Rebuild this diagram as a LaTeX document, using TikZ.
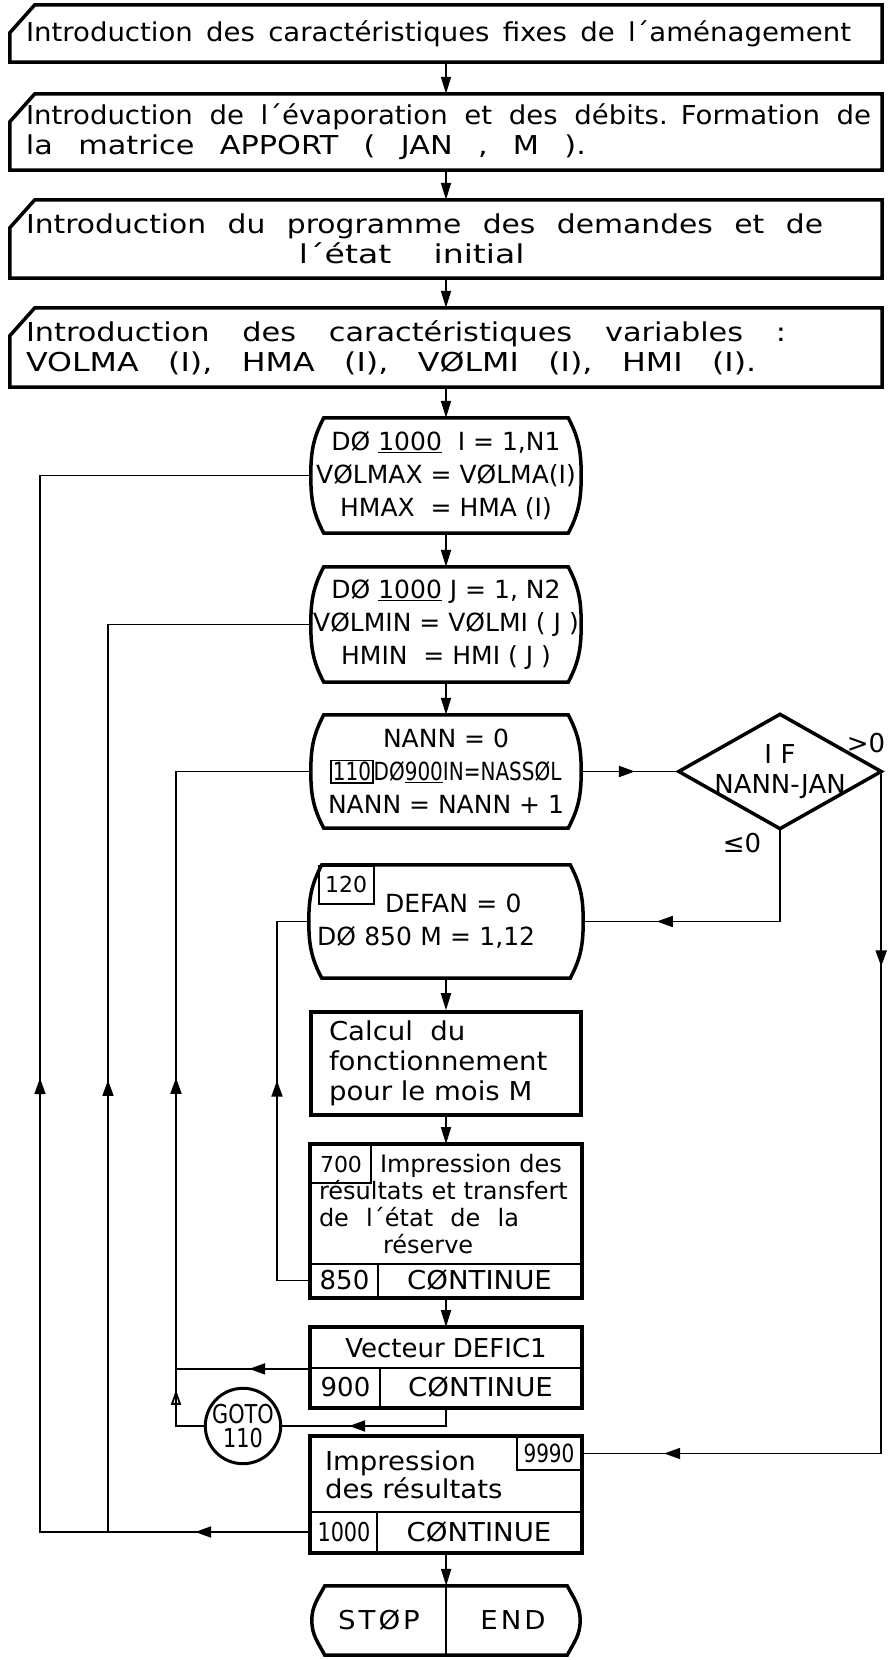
\documentclass[tikz,border=0pt]{standalone}
\usepackage{graphicx}
\usepackage{fontspec}
\setmainfont{DejaVu Sans}
\newfontfamily\widefont[FakeStretch=1.06]{DejaVu Sans}
\newfontfamily\narrowfont[FakeStretch=0.8]{DejaVu Sans}
\usetikzlibrary{arrows.meta, calc, decorations.markings}

\setlength{\fboxrule}{1.5pt}
\setlength{\fboxsep}{1pt}
\newcommand{\spread}[2]{\leavevmode\hbox to #1{\spaceskip=0.3em plus 1fil\relax #2}}
\newcommand{\wideline}[3]{\scalebox{#1}[1]{\spread{#2}{#3}}}
% input box with cut corner
\newcommand{\inputframe}[1]{%
  \draw[frame] ($(#1.north west)+(0,-28)$) -- ($(#1.north west)+(25,0)$)
    -- (#1.north east) -- (#1.south east) -- (#1.south west) -- cycle;}
% loop box with bulging sides
\newcommand{\loopframe}[2]{%
  \draw[frame] ($(#1.north west)+(13,0)$) -- ($(#2.north east)+(-13,0)$)
    to[out=-62,in=90] (#2.east) to[out=-90,in=62] ($(#2.south east)+(-13,0)$)
    -- ($(#1.south west)+(13,0)$) to[out=118,in=-90] (#1.west)
    to[out=90,in=-118] ($(#1.north west)+(13,0)$) -- cycle;}

\begin{document}
\begin{tikzpicture}[
    x=1pt, y=1pt,
    frame/.style={line width=3.5pt},
    line/.style={line width=1.8pt},
    flow/.style={line, -{Triangle[length=17pt,width=10pt]}},
    midarr/.style={postaction={decorate, decoration={markings, mark=at position #1 with {\arrow{Triangle[length=16pt,width=11pt]}}}}},
    openarr/.style={postaction={decorate, decoration={markings, mark=at position #1 with {\arrow{Triangle[open,length=15pt,width=10pt]}}}}},
    inbox/.style={rectangle, minimum width=872pt, text width=840pt, inner xsep=16pt, inner ysep=0pt, align=left, font=\widefont\fontsize{26}{30}\selectfont},
    loopbox/.style={rectangle, minimum width=270pt, minimum height=115pt, inner sep=0pt, align=center, font=\fontsize{25}{33}\selectfont},
    block/.style={rectangle, draw, line width=1.8pt, minimum width=270pt, inner sep=0pt},
    cell/.style={rectangle, draw, line width=1.8pt, inner sep=0pt, font=\fontsize{26}{26}\selectfont},
    tag/.style={rectangle, draw, line width=1.8pt, inner sep=0pt, font=\fontsize{22}{22}\selectfont}
]
\useasboundingbox (0,0) rectangle (889,1660);

% Lanes
\coordinate (lane1) at (40,0);
\coordinate (lane2) at (108,0);
\coordinate (lane3) at (176,0);
\coordinate (lane4) at (277,0);
\coordinate (axis) at (446,0);

% Input boxes
\node (b1) [inbox, minimum height=57pt] at (446,1626.5) {\spread{825pt}{Introduction des caractéristiques fixes de l´aménagement}};
\node (b2) [inbox, minimum height=76pt] at (446,1528) {\spread{845pt}{Introduction de l´évaporation et des débits. Formation de}\\\wideline{1.1}{509pt}{la matrice APPORT ( JAN , M ).}};
\node (b3) [inbox, minimum height=78pt] at (446,1421) {\wideline{1.08}{738pt}{Introduction du programme des demandes et de}\\\hspace*{273pt}\wideline{1.2}{188pt}{l´état initial}};
\node (b4) [inbox, minimum height=79pt] at (446,1312.5) {\wideline{1.1}{691pt}{Introduction des caractéristiques variables :}\\\wideline{1.15}{635pt}{VOLMA (I), HMA (I), VØLMI (I), HMI (I).}};

% Loops
\node (loop1) [loopbox] at (446,1184.5) {DØ \underline{1000}\ \ I = 1,N1\\VØLMAX = VØLMA(I)\\HMAX\ \ = HMA (I)};
\node (loop2) [loopbox] at (446,1035.5) {DØ \underline{1000} J = 1, N2\\VØLMIN = VØLMI ( J )\\HMIN\ \ = HMI ( J )};
\node (loop3) [loopbox, minimum height=113pt] at (446,888.5) {NANN = 0\\{\narrowfont\fbox{110}DØ\underline{900}IN=NASSØL}\\NANN = NANN + 1};
\node (ifn) [rectangle, minimum width=202pt, minimum height=114pt, inner sep=0pt, align=center, font=\fontsize{26}{30}\selectfont] at (780,888.5) {I\,\,F\\NANN-JAN};
\node (gt) [font=\fontsize{26}{26}\selectfont, inner sep=0pt] at (866,917) {>0};
\node (le) [font=\fontsize{26}{26}\selectfont, inner sep=0pt] at (742,817) {≤0};
\node (box120) [loopbox, minimum width=274pt, minimum height=113pt, text width=258pt, inner xsep=8pt, align=left] at (446,738.5) {\hspace*{68pt}DEFAN = 0\\DØ 850 M = 1,12};
\node (l120) [tag, anchor=north west, minimum width=55pt, minimum height=38pt] at ($(box120.north west)+(9,0)$) {120};

% Monthly loop body
\node (calc) [block, line width=3.5pt, minimum height=103pt, text width=234pt, inner xsep=18pt, align=left, font=\widefont\fontsize{26}{30}\selectfont] at (446,596.5) {Calcul \ du\\fonctionnement\\pour le mois M};
\node (t700) [block, minimum height=119pt, text width=254pt, inner xsep=8pt, align=left, font=\fontsize{24}{27}\selectfont] at (446,455.5) {\hspace*{61pt}Impression des\\résultats et transfert\\\spread{200pt}{de l´état de la}\\\hspace*{64pt}réserve};
\node (l700) [tag, anchor=north west, minimum width=60pt, minimum height=38pt] at (t700.north west) {700};
\node (n850) [cell, minimum width=67pt, minimum height=33pt] at (344.5,379.5) {850};
\node (k850) [cell, minimum width=203pt, minimum height=33pt, font=\widefont\fontsize{26}{26}\selectfont] at (479.5,379.5) {CØNTINUE};

\node (tvec) [block, minimum height=40pt, font=\fontsize{26}{26}\selectfont] at (446,312) {Vecteur DEFIC1};
\node (n900) [cell, minimum width=69pt, minimum height=39pt] at (345.5,272.5) {900};
\node (k900) [cell, minimum width=201pt, minimum height=39pt, font=\widefont\fontsize{26}{26}\selectfont] at (480.5,272.5) {CØNTINUE};
\node (goto) [circle, draw, line width=3pt, minimum size=74pt, inner sep=0pt, align=center, font=\narrowfont\fontsize{26}{24}\selectfont] at (243,234) {GOTO\\110};

% Results and end
\node (timp) [block, minimum height=75pt, text width=242pt, inner xsep=14pt, align=left, font=\widefont\fontsize{26}{28}\selectfont] at (446,185.5) {Impression\\des résultats};
\node (l9990) [tag, anchor=north east, minimum width=64pt, minimum height=33pt, font=\narrowfont\fontsize{25}{25}\selectfont] at (timp.north east) {9990};
\node (n1000) [cell, minimum width=66pt, minimum height=40pt, font=\narrowfont\fontsize{26}{26}\selectfont] at (344,128) {1000};
\node (k1000) [cell, minimum width=204pt, minimum height=40pt, font=\widefont\fontsize{26}{26}\selectfont] at (479,128) {CØNTINUE};
\node (stp) [rectangle, minimum width=134pt, minimum height=69pt, inner sep=0pt, font=\widefont\fontsize{26}{26}\selectfont] at (379,39.5) {S\hspace{3pt}T\hspace{3pt}Ø\hspace{3pt}P};
\node (endn) [rectangle, minimum width=134pt, minimum height=69pt, inner sep=0pt, font=\widefont\fontsize{26}{26}\selectfont] at (513,39.5) {E\hspace{3pt}N\hspace{3pt}D};

% Frames
\inputframe{b1}
\inputframe{b2}
\inputframe{b3}
\inputframe{b4}
\loopframe{loop1}{loop1}
\loopframe{loop2}{loop2}
\loopframe{loop3}{loop3}
\loopframe{box120}{box120}
\loopframe{stp}{endn}
\draw[frame] (ifn.north) -- (ifn.east) -- (ifn.south) -- (ifn.west) -- cycle;
\draw[frame] (t700.north west) rectangle (k850.south east);
\draw[frame] (tvec.north west) rectangle (k900.south east);
\draw[frame] (timp.north west) rectangle (k1000.south east);
\draw[line] (stp.north east) -- (stp.south east);

% Links
\draw[flow] (b1) -- (b2);
\draw[flow] (b2) -- (b3);
\draw[flow] (b3) -- (b4);
\draw[flow] (b4) -- (loop1);
\draw[flow] (loop1) -- (loop2);
\draw[flow] (loop2) -- (loop3);
\draw[line, midarr=0.55] (loop3) -- (ifn);
\draw[line, midarr=216pt] (ifn.south) |- (box120.east);
\draw[line, midarr=195pt, midarr=899pt] (ifn.east) |- (l9990.east);
\draw[flow] (box120) -- (calc);
\draw[flow] (calc) -- (t700);
\draw[flow] (k850.south -| axis) -- (tvec);
\draw[flow] (k1000.south -| axis) -- (stp.north east);

% Loop returns
\draw[line, midarr=233pt] (n850.west) -| (box120.west -| lane4) -- (box120.west);
\draw[line, midarr=61pt] (tvec.south west) -- (tvec.south west -| lane3);
\draw[line, midarr=115pt] (k900.south -| axis) |- (goto.east);
\draw[line, openarr=64pt, midarr=376pt] (goto.west) -| (loop3.west -| lane3) -- (loop3.west);
\draw[line, midarr=115pt, midarr=724pt] (n1000.west) -| (loop1.west -| lane1) -- (loop1.west);
\draw[line, midarr=452pt] (n1000.west -| lane2) |- (loop2.west);

\end{tikzpicture}
\end{document}
